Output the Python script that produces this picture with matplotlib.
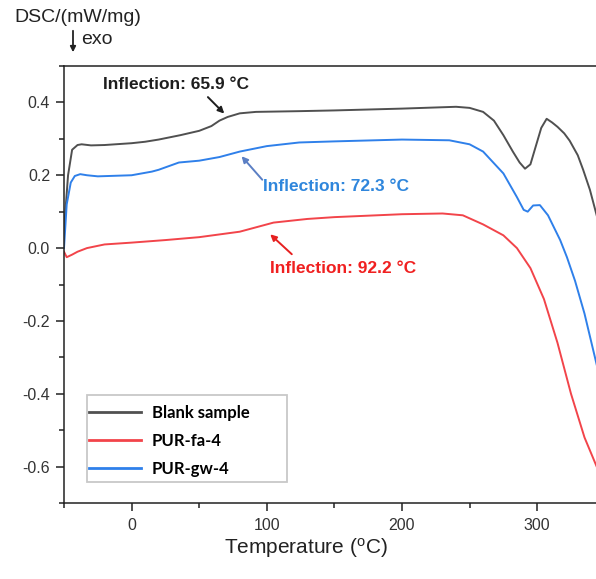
import numpy as np
import matplotlib
matplotlib.use("Agg")
import matplotlib.pyplot as plt
from matplotlib.ticker import MultipleLocator

# DSC curves (temperature in degC, heat flow in mW/mg)
blank_T = [-50, -47, -44, -40, -37, -30, -20, 0, 10, 20, 36, 50, 59, 65, 71, 80, 92,
           124, 150, 200, 240, 250, 260, 268, 275, 282, 287, 291, 295, 299, 303, 307,
           311, 315, 320, 324, 330, 334, 339, 344]
blank_dsc = [0.05, 0.20, 0.27, 0.283, 0.285, 0.282, 0.283, 0.288, 0.292, 0.298, 0.31,
             0.322, 0.335, 0.35, 0.36, 0.37, 0.374, 0.376, 0.378, 0.383, 0.388, 0.385,
             0.374, 0.35, 0.31, 0.265, 0.235, 0.218, 0.23, 0.28, 0.33, 0.355, 0.345,
             0.333, 0.315, 0.295, 0.255, 0.215, 0.16, 0.09]

fa_T = [-50, -48, -44, -40, -33, -20, 0, 25, 50, 80, 90, 105, 130, 150, 200, 230, 245,
        260, 275, 285, 295, 305, 315, 325, 335, 344]
fa_dsc = [-0.01, -0.025, -0.018, -0.01, 0.0, 0.01, 0.015, 0.022, 0.03, 0.045, 0.055,
          0.07, 0.08, 0.085, 0.093, 0.095, 0.09, 0.065, 0.035, 0.0, -0.055, -0.14,
          -0.26, -0.40, -0.52, -0.60]

gw_T = [-50, -48, -45, -42, -38, -33, -25, 0, 15, 20, 35, 50, 65, 80, 100, 124, 150,
        200, 235, 250, 260, 275, 285, 290, 293, 297, 302, 308, 317, 322, 328, 335, 344]
gw_dsc = [0.0, 0.12, 0.18, 0.198, 0.203, 0.2, 0.197, 0.2, 0.21, 0.215, 0.235, 0.24,
          0.25, 0.265, 0.28, 0.29, 0.293, 0.298, 0.296, 0.285, 0.265, 0.205, 0.14,
          0.105, 0.10, 0.117, 0.118, 0.09, 0.022, -0.025, -0.09, -0.18, -0.32]

series_names = ["Blank sample", "PUR-fa-4", "PUR-gw-4"]
line_colors = ["#505050", "#f2444a", "#2f80ea"]

# inflection labels: text, text anchor (left, centre), arrow tail, arrow tip
infl_text = ["Inflection: 65.9 °C", "Inflection: 72.3 °C", "Inflection: 92.2 °C"]
infl_text_xy = [(-21.5, 0.449), (97.5, 0.168), (102.5, -0.055)]
infl_tail = [(55, 0.42), (98, 0.182), (120, -0.022)]
infl_tip = [(70, 0.364), (80, 0.258), (101, 0.043)]
infl_colors = ["#1e1e1e", "#2f86dc", "#f02020"]
arrow_colors = ["#1e1e1e", "#5b7fc4", "#e62020"]

fig = plt.figure(figsize=(5.96, 5.79), dpi=100)
ax = fig.add_axes([64 / 596, 76 / 579, 1 - 64 / 596, 437 / 579])

for T, d, c, name in zip([blank_T, fa_T, gw_T], [blank_dsc, fa_dsc, gw_dsc],
                         line_colors, series_names):
    ax.plot(T, d, color=c, lw=1.4, label=name)

for txt, xy, tail, tip, tc, ac in zip(infl_text, infl_text_xy, infl_tail, infl_tip,
                                       infl_colors, arrow_colors):
    ax.text(xy[0], xy[1], txt, color=tc, fontsize=12.5, fontweight="bold",
            family="Liberation Sans", ha="left", va="center")
    ax.annotate("", xy=tip, xytext=tail,
                arrowprops=dict(arrowstyle="-|>", color=ac, lw=1.4, mutation_scale=9))

ax.set_xlim(-50, 343.5)
ax.set_ylim(-0.7, 0.5)
ax.xaxis.set_major_locator(MultipleLocator(100))
ax.xaxis.set_minor_locator(MultipleLocator(50))
ax.yaxis.set_major_locator(MultipleLocator(0.2))
ax.yaxis.set_minor_locator(MultipleLocator(0.1))
ax.yaxis.set_major_formatter(matplotlib.ticker.FuncFormatter(lambda v, p: f"{v:.1f}"))
ax.tick_params(which="major", direction="out", length=6, width=1.1, labelsize=11.5,
               top=False, right=False, colors="#222222")
ax.tick_params(which="minor", direction="out", length=3.5, width=1.1, top=False, right=False,
               colors="#222222")
for lab in ax.get_xticklabels() + ax.get_yticklabels():
    lab.set_family("Liberation Sans")
    lab.set_color("#333333")
ax.tick_params(axis="x", pad=5)
ax.tick_params(axis="y", pad=4)
ax.spines["right"].set_visible(False)
for s in ["left", "bottom", "top"]:
    ax.spines[s].set_linewidth(1.1)
    ax.spines[s].set_color("#222222")

# legend entries without frame; the box is drawn separately (it is wider than the text)
box = matplotlib.patches.Rectangle(
    (87 / 596, 1 - 482 / 579), 200 / 596, 87 / 579, transform=fig.transFigure,
    facecolor="white", edgecolor="#c8c8c8", lw=1.3, zorder=4, clip_on=False)
ax.add_patch(box)
leg = ax.legend(loc="upper left", bbox_to_anchor=(89 / 596, 1 - 405 / 579),
                bbox_transform=fig.transFigure, frameon=False,
                prop={"family": "Lato", "weight": "bold", "size": 12},
                handlelength=3.1, handletextpad=0.65, labelspacing=0.72,
                borderpad=0, borderaxespad=0)
for h in leg.get_lines():
    h.set_linewidth(2.0)
leg.set_zorder(6)

fig.text(306 / 596, 1 - 548 / 579, r"Temperature ($\mathregular{^o}$C)", fontsize=15,
         family="Liberation Sans", ha="center", va="center", color="#222222")
fig.text(14 / 596, 1 - 17 / 579, "DSC/(mW/mg)", fontsize=14, family="Liberation Sans",
         ha="left", va="center", color="#222222")
fig.text(81 / 596, 1 - 40 / 579, "exo", fontsize=14, family="Liberation Sans",
         ha="left", va="center", color="#222222")
fig.add_artist(matplotlib.patches.FancyArrowPatch(
    (73 / 596, 1 - 28 / 579), (73 / 596, 1 - 55 / 579), transform=fig.transFigure,
    arrowstyle="-|>", mutation_scale=8, lw=1.3, color="#222222"))

fig.savefig("out.png", dpi=100)
